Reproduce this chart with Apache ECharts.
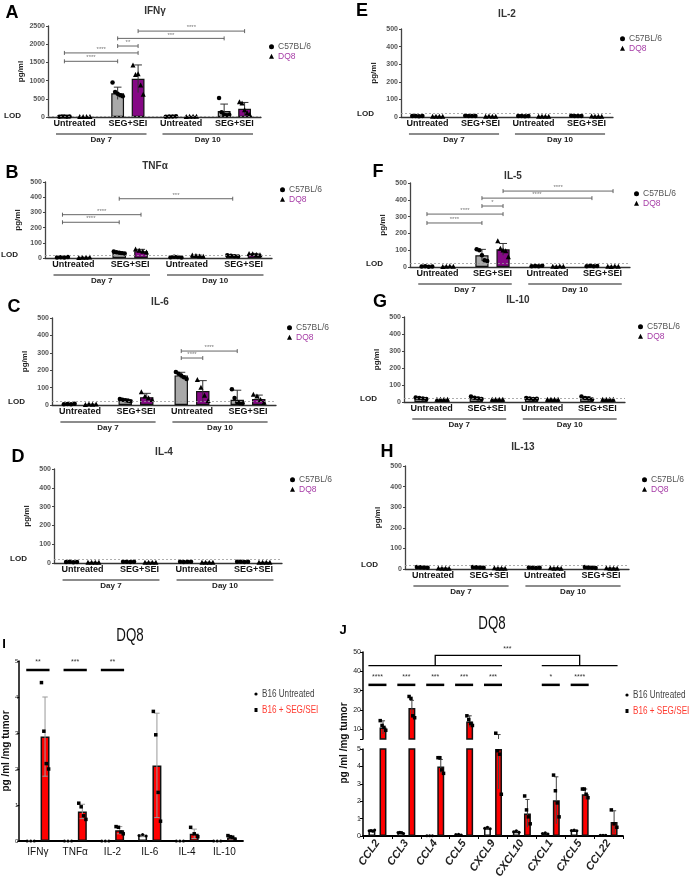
<!DOCTYPE html>
<html>
<head>
<meta charset="utf-8">
<script src="https://cdn.jsdelivr.net/npm/echarts@6/dist/echarts.min.js"></script>
<style>
html,body{margin:0;padding:0;background:#fff}
#main{width:689px;height:889px}
</style>
</head>
<body>
<div id="main"></div>
<script>
// ---------- data ----------
const groups = ['Untreated', 'SEG+SEI', 'Untreated', 'SEG+SEI'];
const dayLabels = [[0, 1, 'Day 7'], [2, 3, 'Day 10']];

// A  IFNγ
const ifngC57 = [12, 650, 14, 165];
const ifngC57Sd = [4, 170, 5, 190];
const ifngDQ8 = [8, 1050, 12, 225];
const ifngDQ8Sd = [4, 380, 6, 175];
const ifngC57Pts = [[8, 12, 15, 10, 14], [950, 690, 640, 600, 570], [10, 16, 12, 18], [520, 130, 60, 50, 60]];
const ifngDQ8Pts = [[5, 8, 10, 9], [1420, 1160, 1180, 870, 620], [8, 14, 12, 15], [410, 380, 190, 110, 60]];
const ifngSig = [[0, 0, 1, 0, 1530, '****'], [0, 0, 1, 1, 1760, '****'], [1, 0, 1, 1, 1950, '**'], [1, 0, 3, 0, 2160, '***'], [1, 1, 3, 1, 2360, '****']];

// B  TNFα
const tnfC57 = [4, 35, 6, 14];
const tnfC57Sd = [2, 6, 3, 5];
const tnfDQ8 = [3, 45, 14, 24];
const tnfDQ8Sd = [2, 12, 5, 6];
const tnfC57Pts = [[3, 5, 4, 6], [42, 38, 35, 32, 30], [5, 8, 6, 4], [18, 15, 12, 10]];
const tnfDQ8Pts = [[2, 4, 3, 5], [58, 50, 42, 38], [18, 15, 12, 10], [28, 26, 22, 20]];
const tnfSig = [[0, 0, 1, 0, 235, '****'], [0, 0, 1, 1, 285, '****'], [1, 0, 3, 0, 390, '***']];

// C  IL-6
const il6C57 = [5, 28, 170, 30];
const il6C57Sd = [2, 6, 18, 55];
const il6DQ8 = [3, 45, 80, 35];
const il6DQ8Sd = [2, 22, 60, 22];
const il6C57Pts = [[4, 6, 5, 7], [35, 30, 28, 25, 22], [190, 180, 170, 160, 150], [90, 40, 15, 10, 8]];
const il6DQ8Pts = [[2, 4, 3, 5], [75, 50, 40, 30], [145, 100, 55, 25], [60, 50, 30, 15]];
const il6Sig = [[2, 0, 2, 1, 270, '****'], [2, 0, 3, 0, 310, '****']];

// D  IL-4
const il4C57 = [5, 6, 6, 6];
const il4C57Sd = [1, 1, 1, 1];
const il4DQ8 = [3, 3, 3, 3];
const il4DQ8Sd = [1, 1, 1, 1];
const il4C57Pts = [[5, 6, 4, 5], [6, 7, 5, 6], [6, 5, 7, 6], [6, 7, 5, 6]];
const il4DQ8Pts = [[3, 3, 3, 3], [3, 3, 3, 3], [3, 3, 3, 3], [3, 3, 3, 3]];

// E  IL-2
const il2C57 = [5, 6, 5, 6];
const il2C57Sd = [1, 1, 1, 2];
const il2DQ8 = [3, 3, 3, 3];
const il2DQ8Sd = [1, 1, 1, 1];
const il2C57Pts = [[5, 6, 4, 5], [7, 6, 5, 6], [6, 5, 4, 6], [7, 6, 5, 6]];
const il2DQ8Pts = [[3, 3, 3, 3], [3, 4, 3, 3], [3, 3, 3, 3], [4, 3, 3, 3]];

// F  IL-5
const il5C57 = [3, 70, 5, 5];
const il5C57Sd = [1, 35, 2, 2];
const il5DQ8 = [3, 105, 3, 3];
const il5DQ8Sd = [1, 35, 1, 1];
const il5C57Pts = [[3, 4, 2, 3], [105, 100, 70, 40, 35], [5, 6, 4, 7], [5, 8, 4, 6]];
const il5DQ8Pts = [[2, 3, 4, 3], [155, 110, 100, 95, 60], [3, 2, 4, 3], [3, 2, 4, 3]];
const il5Sig = [[0, 0, 1, 0, 262, '****'], [0, 0, 1, 1, 315, '****'], [1, 0, 1, 1, 363, '*'], [1, 0, 3, 0, 410, '****'], [1, 1, 3, 1, 452, '****']];

// G  IL-10
const il10C57 = [22, 22, 20, 22];
const il10C57Sd = [4, 6, 3, 8];
const il10DQ8 = [15, 15, 15, 15];
const il10DQ8Sd = [1, 1, 1, 1];
const il10C57Pts = [[27, 24, 20, 18], [32, 25, 20, 17], [24, 21, 18, 19], [33, 24, 20, 14]];
const il10DQ8Pts = [[15, 15, 15, 15], [15, 15, 15, 15], [15, 15, 15, 15], [15, 15, 15, 15]];

// H  IL-13
const il13C57 = [8, 8, 6, 7];
const il13C57Sd = [2, 2, 2, 3];
const il13DQ8 = [3, 3, 4, 3];
const il13DQ8Sd = [2, 2, 2, 2];
const il13C57Pts = [[10, 8, 7, 6], [10, 9, 7, 6], [7, 6, 5, 6], [10, 7, 6, 5]];
const il13DQ8Pts = [[4, 2, 3, 2], [5, 3, 2, 3], [5, 3, 4, 3], [5, 2, 3, 2]];

// I  tumour cytokines (DQ8)
const iCats = ['IFNγ', 'TNFα', 'IL-2', 'IL-6', 'IL-4', 'IL-10'];
const iUntr = [0.01, 0.01, 0.01, 0.15, 0.01, 0.01];
const iUntrSd = [0, 0, 0, 0.03, 0, 0];
const iSeg = [2.9, 0.82, 0.3, 2.1, 0.2, 0.1];
const iSegSd = [1.1, 0.2, 0.1, 1.45, 0.13, 0.05];
const iUntrPts = [[0, 0, 0], [0, 0, 0], [0, 0, 0], [0.15, 0.18, 0.14], [0, 0, 0], [0, 0, 0]];
const iSegPts = [[4.4, 3.05, 2.15, 2.0], [1.05, 0.95, 0.7, 0.6], [0.4, 0.38, 0.25, 0.2], [3.6, 2.95, 1.35, 0.55], [0.38, 0.2, 0.12], [0.15, 0.12, 0.1, 0.05]];
const iSig = [[0, 4.75, '**'], [1, 4.75, '***'], [2, 4.75, '**']];

// J  tumour chemokines (DQ8)
const jCats = ['CCL2', 'CCL3', 'CCL4', 'CCL5', 'CXCL9', 'CXCL10', 'CXCL1', 'CXCL5', 'CCL22'];
const jUntr = [0.3, 0.2, 0.02, 0.08, 0.45, 0.25, 0.15, 0.32, 0.05];
const jUntrSd = [0.05, 0.05, 0.01, 0.02, 0.06, 0.05, 0.03, 0.03, 0.01];
const jSeg = [11, 21, 4.0, 14, 5.0, 1.3, 2.05, 2.4, 0.8];
const jSegSd = [3.4, 4, 0.4, 3, 2.3, 0.8, 1.35, 0.3, 0.65];
const jUntrPts = [[0.3, 0.32, 0.28, 0.35], [0.2, 0.22, 0.18, 0.15], [0.02, 0.02, 0.02], [0.08, 0.1, 0.06], [0.45, 0.5, 0.42], [0.25, 0.3, 0.22], [0.15, 0.18, 0.12], [0.32, 0.34, 0.3], [0.05, 0.05, 0.05]];
const jSegPts = [[14.5, 12, 11, 9.5], [27, 26, 17, 16], [4.5, 4.5, 3.8, 3.6], [17, 15, 13, 12], [8, 4.9, 4.7, 2.4], [2.3, 1.5, 1.1, 0.7], [3.5, 2.6, 1.9, 1.1], [2.7, 2.7, 2.4, 2.2], [1.5, 0.7, 0.5]];
const jSig = [[0, 33, '****'], [1, 33, '***'], [2, 33, '***'], [3, 33, '***'], [4, 33, '***'], [6, 33, '*'], [7, 33, '****']];
const jGroupLines = [[0, 4, 43], [6, 8, 43]];
const jConnector = [[2, 7, 43, 48.3, '***']];
const J_BREAK = 5;

// ---------- panels / layout ----------
const topPanels = [
  {letter: 'A', title: 'IFNγ', max: 2500, c57: ifngC57, c57Sd: ifngC57Sd, dq8: ifngDQ8, dq8Sd: ifngDQ8Sd, c57Pts: ifngC57Pts, dq8Pts: ifngDQ8Pts, sig: ifngSig},
  {letter: 'B', title: 'TNFα', max: 500, c57: tnfC57, c57Sd: tnfC57Sd, dq8: tnfDQ8, dq8Sd: tnfDQ8Sd, c57Pts: tnfC57Pts, dq8Pts: tnfDQ8Pts, sig: tnfSig},
  {letter: 'C', title: 'IL-6', max: 500, c57: il6C57, c57Sd: il6C57Sd, dq8: il6DQ8, dq8Sd: il6DQ8Sd, c57Pts: il6C57Pts, dq8Pts: il6DQ8Pts, sig: il6Sig},
  {letter: 'D', title: 'IL-4', max: 500, c57: il4C57, c57Sd: il4C57Sd, dq8: il4DQ8, dq8Sd: il4DQ8Sd, c57Pts: il4C57Pts, dq8Pts: il4DQ8Pts, sig: []},
  {letter: 'E', title: 'IL-2', max: 500, c57: il2C57, c57Sd: il2C57Sd, dq8: il2DQ8, dq8Sd: il2DQ8Sd, c57Pts: il2C57Pts, dq8Pts: il2DQ8Pts, sig: []},
  {letter: 'F', title: 'IL-5', max: 500, c57: il5C57, c57Sd: il5C57Sd, dq8: il5DQ8, dq8Sd: il5DQ8Sd, c57Pts: il5C57Pts, dq8Pts: il5DQ8Pts, sig: il5Sig},
  {letter: 'G', title: 'IL-10', max: 500, c57: il10C57, c57Sd: il10C57Sd, dq8: il10DQ8, dq8Sd: il10DQ8Sd, c57Pts: il10C57Pts, dq8Pts: il10DQ8Pts, sig: []},
  {letter: 'H', title: 'IL-13', max: 500, c57: il13C57, c57Sd: il13C57Sd, dq8: il13DQ8, dq8Sd: il13DQ8Sd, c57Pts: il13C57Pts, dq8Pts: il13DQ8Pts, sig: []}
];
const LOD = 20;

// l/r: x extent, t/b: y of max and of 0, title, letter, legend anchor
const topLayout = [
  {l: 48, r: 261, t: 26, b: 117, tx: 155, ty: 11, lx: 12, ly: 13, gx: 272, gy: 47},
  {l: 45, r: 272, t: 182, b: 258, tx: 155, ty: 166, lx: 12, ly: 173, gx: 283, gy: 190},
  {l: 52, r: 276, t: 318, b: 405, tx: 160, ty: 302, lx: 14, ly: 307, gx: 290, gy: 328},
  {l: 54, r: 282, t: 469, b: 563, tx: 164, ty: 452, lx: 18, ly: 457, gx: 293, gy: 480},
  {l: 401, r: 613, t: 29, b: 117, tx: 507, ty: 14, lx: 362, ly: 11, gx: 623, gy: 39},
  {l: 410, r: 630, t: 183, b: 267, tx: 513, ty: 176, lx: 378, ly: 172, gx: 637, gy: 194},
  {l: 404, r: 625, t: 317, b: 402, tx: 518, ty: 300, lx: 380, ly: 302, gx: 641, gy: 327},
  {l: 405, r: 629, t: 466, b: 569, tx: 523, ty: 447, lx: 387, ly: 452, gx: 645, gy: 480}
];

const FONT = "'Liberation Sans', Arial, sans-serif";
const NARROW_SCALE = 0.74;
const BAR_W = 0.24, BAR_GAP = 0.6;

const grid = [], xAxis = [], yAxis = [], series = [], legend = [], graphic = [];

function offset(cw, s) {
  return (s === 0 ? -1 : 1) * cw * BAR_W * (1 + BAR_GAP) / 2;
}

function marker(kind, x, y, sz) {
  if (kind === 'circle') return {type: 'circle', shape: {cx: x, cy: y, r: sz / 2}, style: {fill: '#000'}};
  if (kind === 'triangle') return {type: 'polygon', shape: {points: [[x, y - sz / 2 - 0.5], [x - sz / 2 - 0.3, y + sz / 2], [x + sz / 2 + 0.3, y + sz / 2]]}, style: {fill: '#000'}};
  return {type: 'rect', shape: {x: x - sz / 2, y: y - sz / 2, width: sz, height: sz}, style: {fill: '#000'}};
}

function barSeries(name, gi, data, color, border, lod) {
  const s = {
    type: 'bar', name, xAxisIndex: gi, yAxisIndex: gi, data, z: 2,
    barWidth: (BAR_W * 100) + '%', barGap: (BAR_GAP * 100) + '%',
    itemStyle: {color, borderColor: '#111', borderWidth: border}
  };
  if (lod != null) {
    s.markLine = {
      silent: true, symbol: 'none', animation: false,
      data: [{yAxis: lod}],
      lineStyle: {type: [2, 2], color: '#999', width: 0.8},
      label: {show: true, position: 'start', formatter: 'LOD', distance: 27, fontSize: 8, fontWeight: 'bold', color: '#222', fontFamily: FONT}
    };
  }
  return s;
}

// keep: optional filter on values (used for the broken J axis)
function dotSeries(gi, pts, s, kind, sz, keep) {
  const data = [];
  pts.forEach((arr, c) => arr.forEach((v, i) => {
    if (!keep || keep(v)) data.push([c, v, i, arr.length]);
  }));
  return {
    type: 'custom', xAxisIndex: gi, yAxisIndex: gi, z: 4, silent: true,
    encode: {x: 0, y: 1}, data,
    renderItem(params, api) {
      const cw = api.size([1, 0])[0];
      const p = api.coord([api.value(0), api.value(1)]);
      const n = api.value(3), i = api.value(2);
      const dx = n > 1 ? (i / (n - 1) - 0.5) * cw * BAR_W * 0.8 : 0;
      return marker(kind, p[0] + offset(cw, s) + dx, p[1], sz);
    }
  };
}

function errSeries(gi, means, sds, s, color, lowCap, clip) {
  return {
    type: 'custom', xAxisIndex: gi, yAxisIndex: gi, z: 3, silent: true, clip: !!clip,
    encode: {x: 0, y: 1}, data: means.map((m, c) => [c, m, sds[c]]),
    renderItem(params, api) {
      const cw = api.size([1, 0])[0];
      const x = api.coord([api.value(0), 0])[0] + offset(cw, s);
      const top = api.coord([0, api.value(1) + api.value(2)])[1];
      const bot = api.coord([0, Math.max(0, api.value(1) - api.value(2))])[1];
      const cap = cw * BAR_W * 0.3;
      const ch = [
        {type: 'line', shape: {x1: x, y1: bot, x2: x, y2: top}, style: {stroke: color, lineWidth: 1}},
        {type: 'line', shape: {x1: x - cap, y1: top, x2: x + cap, y2: top}, style: {stroke: color, lineWidth: 1}}
      ];
      if (lowCap) ch.push({type: 'line', shape: {x1: x - cap, y1: bot, x2: x + cap, y2: bot}, style: {stroke: color, lineWidth: 1}});
      return {type: 'group', children: ch};
    }
  };
}

function bracketSeries(gi, sig) {
  return {
    type: 'custom', xAxisIndex: gi, yAxisIndex: gi, z: 5, silent: true,
    encode: {x: 0, y: 1}, data: sig.map(d => [d[0], d[4]]),
    renderItem(params, api) {
      const d = sig[params.dataIndex];
      const cw = api.size([1, 0])[0];
      const x1 = api.coord([d[0], 0])[0] + offset(cw, d[1]);
      const x2 = api.coord([d[2], 0])[0] + offset(cw, d[3]);
      const y = api.coord([0, d[4]])[1];
      const st = {stroke: '#555', lineWidth: 0.9};
      return {type: 'group', children: [
        {type: 'line', shape: {x1, y1: y, x2, y2: y}, style: st},
        {type: 'line', shape: {x1, y1: y - 2, x2: x1, y2: y + 2}, style: st},
        {type: 'line', shape: {x1: x2, y1: y - 2, x2, y2: y + 2}, style: st},
        {type: 'text', x: (x1 + x2) / 2, y: y - 0.5, style: {text: d[5], fontSize: 6, fill: '#777', align: 'center', verticalAlign: 'bottom', fontFamily: FONT}}
      ]};
    }
  };
}

function daySeries(gi) {
  return {
    type: 'custom', xAxisIndex: gi, yAxisIndex: gi, z: 1, silent: true,
    encode: {x: 0, y: 1}, data: dayLabels.map(d => [d[0], 0]),
    renderItem(params, api) {
      const d = dayLabels[params.dataIndex];
      const cw = api.size([1, 0])[0];
      const a = api.coord([d[0], 0]), b = api.coord([d[1], 0]);
      const x1 = a[0] - cw * 0.35, x2 = b[0] + cw * 0.35, y = a[1] + 17;
      return {type: 'group', children: [
        {type: 'line', shape: {x1, y1: y, x2, y2: y}, style: {stroke: '#666', lineWidth: 1.3}},
        {type: 'text', x: (x1 + x2) / 2, y: y + 1.5, style: {text: d[2], fontSize: 8, fontWeight: 'bold', fill: '#222', align: 'center', verticalAlign: 'top', fontFamily: FONT}}
      ]};
    }
  };
}

function pairSigSeries(gi, sig) {
  return {
    type: 'custom', xAxisIndex: gi, yAxisIndex: gi, z: 5, silent: true,
    encode: {x: 0, y: 1}, data: sig.map(d => [d[0], d[1]]),
    renderItem(params, api) {
      const d = sig[params.dataIndex];
      const cw = api.size([1, 0])[0];
      const c = api.coord([d[0], d[1]]);
      const half = cw * BAR_W * (1 + BAR_GAP) / 2 + cw * BAR_W / 2;
      return {type: 'group', children: [
        {type: 'line', shape: {x1: c[0] - half, y1: c[1], x2: c[0] + half, y2: c[1]}, style: {stroke: '#000', lineWidth: 2.5}},
        {type: 'text', x: c[0], y: c[1] - 4, style: {text: d[2], fontSize: 7, fill: '#333', align: 'center', verticalAlign: 'bottom', fontFamily: FONT}}
      ]};
    }
  };
}

function groupLineSeries(gi, lines, conn) {
  const all = lines.map(l => ({k: 'l', d: l})).concat(conn.map(c => ({k: 'c', d: c})));
  return {
    type: 'custom', xAxisIndex: gi, yAxisIndex: gi, z: 5, silent: true,
    encode: {x: 0, y: 1}, data: all.map(o => [o.d[0], o.d[2]]),
    renderItem(params, api) {
      const o = all[params.dataIndex];
      const cw = api.size([1, 0])[0];
      const st = {stroke: '#000', lineWidth: 1.3};
      if (o.k === 'l') {
        const half = cw * BAR_W * (1 + BAR_GAP) / 2 + cw * BAR_W / 2;
        const x1 = api.coord([o.d[0], 0])[0] - half;
        const x2 = api.coord([o.d[1], 0])[0] + half;
        const y = api.coord([0, o.d[2]])[1];
        return {type: 'line', shape: {x1, y1: y, x2, y2: y}, style: st};
      }
      const x1 = api.coord([o.d[0], 0])[0];
      const x2 = api.coord([o.d[1], 0])[0];
      const y1 = api.coord([0, o.d[2]])[1];
      const y2 = api.coord([0, o.d[3]])[1];
      return {type: 'group', children: [
        {type: 'polyline', shape: {points: [[x1, y1], [x1, y2], [x2, y2], [x2, y1]]}, style: Object.assign({fill: null}, st)},
        {type: 'text', x: (x1 + x2) / 2, y: y2 - 3, style: {text: o.d[4], fontSize: 7, fill: '#333', align: 'center', verticalAlign: 'bottom', fontFamily: FONT}}
      ]};
    }
  };
}

// ---------- top panels A-H ----------
topPanels.forEach((p, gi) => {
  const L = topLayout[gi];
  grid.push({left: L.l, top: L.t, width: L.r - L.l, height: L.b - L.t});
  xAxis.push({
    type: 'category', gridIndex: gi, data: groups,
    axisTick: {show: false},
    axisLine: {lineStyle: {color: '#333', width: 1.3}},
    axisLabel: {interval: 0, fontSize: 9, fontWeight: 'bold', color: '#111', margin: 2, fontFamily: FONT}
  });
  yAxis.push({
    type: 'value', gridIndex: gi, min: 0, max: p.max, interval: p.max / 5,
    name: 'pg/ml', nameLocation: 'middle', nameGap: 23,
    nameTextStyle: {fontSize: 8, fontWeight: 'bold', color: '#222', fontFamily: FONT},
    axisLine: {show: true, lineStyle: {color: '#444', width: 1.3}},
    axisTick: {show: true, length: 2, lineStyle: {color: '#444'}},
    axisLabel: {fontSize: 7, fontWeight: 'bold', color: '#555', margin: 3, fontFamily: FONT, formatter: v => String(v)},
    splitLine: {show: false}
  });
  series.push(barSeries('C57BL/6', gi, p.c57, '#a9a9a9', 1.2, LOD));
  series.push(barSeries('DQ8', gi, p.dq8, '#850885', 1.2));
  series.push(errSeries(gi, p.c57, p.c57Sd, 0, '#333'));
  series.push(errSeries(gi, p.dq8, p.dq8Sd, 1, '#333'));
  series.push(dotSeries(gi, p.c57Pts, 0, 'circle', 4.5));
  series.push(dotSeries(gi, p.dq8Pts, 1, 'triangle', 4.5));
  if (p.sig.length) series.push(bracketSeries(gi, p.sig));
  series.push(daySeries(gi));
  legend.push({
    left: L.gx - 3, top: L.gy - 5, orient: 'vertical', padding: 0, itemGap: 0,
    itemWidth: 5, itemHeight: 5, selectedMode: false,
    textStyle: {fontSize: 8.5, lineHeight: 9.5, fontFamily: FONT, padding: [0, 0, 0, -1]},
    data: [
      {name: 'C57BL/6', icon: 'circle', itemStyle: {color: '#000', borderWidth: 0}, textStyle: {color: '#555'}},
      {name: 'DQ8', icon: 'triangle', itemStyle: {color: '#000', borderWidth: 0}, textStyle: {color: '#a63ca6'}}
    ]
  });
  graphic.push({type: 'text', x: L.tx, y: L.ty, style: {text: p.title, fontSize: 10, fontWeight: 'bold', fill: '#333', align: 'center', verticalAlign: 'middle', fontFamily: FONT}});
  graphic.push({type: 'text', x: L.lx, y: L.ly, style: {text: p.letter, fontSize: 18, fontWeight: 'bold', fill: '#000', align: 'center', verticalAlign: 'middle', fontFamily: FONT}});
});

// ---------- I ----------
const gI = 8;
grid.push({left: 15, top: 661, width: 228, height: 180});
xAxis.push({
  type: 'category', gridIndex: gI, data: iCats, axisTick: {show: false},
  axisLine: {lineStyle: {color: '#000', width: 1.8}},
  axisLabel: {interval: 0, fontSize: 10, color: '#111', margin: 6, fontFamily: FONT}
});
yAxis.push({
  type: 'value', gridIndex: gI, min: 0, max: 5, interval: 1,
  name: 'pg /ml /mg tumor', nameLocation: 'middle', nameGap: 4,
  nameTextStyle: {fontSize: 10, fontWeight: 'bold', color: '#111', fontFamily: FONT},
  axisLine: {show: true, lineStyle: {color: '#000', width: 1.5}},
  axisTick: {show: true, length: 2, lineStyle: {color: '#000'}},
  axisLabel: {fontSize: 6, color: '#222', margin: 1, fontFamily: FONT},
  splitLine: {show: false}
});
series.push(barSeries('B16 Untreated', gI, iUntr, '#fff', 1.5));
series.push(barSeries('B16 + SEG/SEI', gI, iSeg, '#ff0000', 1.5));
series.push(errSeries(gI, iUntr, iUntrSd, 0, '#999', true));
series.push(errSeries(gI, iSeg, iSegSd, 1, '#999', true));
series.push(dotSeries(gI, iUntrPts, 0, 'circle', 3));
series.push(dotSeries(gI, iSegPts, 1, 'rect', 3.5));
series.push(pairSigSeries(gI, iSig));

// ---------- J (broken axis: lower 0-5, upper 5-50) ----------
const gJL = 9, gJU = 10;
grid.push({left: 363, top: 749, width: 260, height: 87});
grid.push({left: 363, top: 652, width: 260, height: 87});
xAxis.push({
  type: 'category', gridIndex: gJL, data: jCats, axisTick: {show: true, length: 3, lineStyle: {color: '#000'}},
  axisLine: {lineStyle: {color: '#000', width: 1.8}},
  axisLabel: {interval: 0, rotate: 55, fontSize: 11, fontWeight: 'bold', fontStyle: 'italic', color: '#222', margin: 5, fontFamily: FONT}
});
xAxis.push({type: 'category', gridIndex: gJU, data: jCats, show: false});
yAxis.push({
  type: 'value', gridIndex: gJL, min: 0, max: J_BREAK, interval: 1,
  axisLine: {show: true, lineStyle: {color: '#000', width: 1.5}},
  axisTick: {show: true, length: 3, lineStyle: {color: '#000'}},
  axisLabel: {fontSize: 7, color: '#222', margin: 2, fontFamily: FONT},
  splitLine: {show: false}
});
yAxis.push({
  type: 'value', gridIndex: gJU, min: J_BREAK, max: 50, splitNumber: 5,
  axisLine: {show: true, lineStyle: {color: '#000', width: 1.5}},
  axisTick: {show: true, length: 3, lineStyle: {color: '#000'}},
  axisLabel: {fontSize: 7, color: '#222', margin: 2, fontFamily: FONT, formatter: v => (v === J_BREAK ? '' : v)},
  splitLine: {show: false}
});
[gJL, gJU].forEach(g => {
  const upper = g === gJU;
  const keep = upper ? (v => v > J_BREAK) : (v => v <= J_BREAK);
  const barVal = v => (upper && v <= J_BREAK ? '-' : v);
  series.push(barSeries('B16 Untreated', g, jUntr.map(barVal), '#fff', 1.5));
  series.push(barSeries('B16 + SEG/SEI', g, jSeg.map(barVal), '#ff0000', 1.5));
  series.push(errSeries(g, jUntr, jUntrSd, 0, '#444', false, true));
  series.push(errSeries(g, jSeg, jSegSd, 1, '#444', false, true));
  series.push(dotSeries(g, jUntrPts, 0, 'circle', 3, keep));
  series.push(dotSeries(g, jSegPts, 1, 'rect', 3.5, keep));
});
series.push(pairSigSeries(gJU, jSig));
series.push(groupLineSeries(gJU, jGroupLines, jConnector));

// legends (drawn as narrow text) and titles for I and J
[[256, 694], [627, 695]].forEach(pos => {
  graphic.push({type: 'circle', shape: {cx: pos[0], cy: pos[1], r: 1.6}, style: {fill: '#000'}});
  graphic.push({type: 'text', x: pos[0] + 6, y: pos[1], scaleX: NARROW_SCALE, style: {text: 'B16 Untreated', fontSize: 11, fill: '#444', align: 'left', verticalAlign: 'middle', fontFamily: FONT}});
  graphic.push({type: 'rect', shape: {x: pos[0] - 1.5, y: pos[1] + 14, width: 3, height: 4}, style: {fill: '#000'}});
  graphic.push({type: 'text', x: pos[0] + 6, y: pos[1] + 16, scaleX: NARROW_SCALE, style: {text: 'B16 + SEG/SEI', fontSize: 11, fill: '#ff3b30', align: 'left', verticalAlign: 'middle', fontFamily: FONT}});
});
graphic.push({type: 'text', x: 130, y: 636, scaleX: NARROW_SCALE, style: {text: 'DQ8', fontSize: 18, fill: '#111', align: 'center', verticalAlign: 'middle', fontFamily: FONT}});
graphic.push({type: 'text', x: 492, y: 624, scaleX: NARROW_SCALE, style: {text: 'DQ8', fontSize: 18, fill: '#111', align: 'center', verticalAlign: 'middle', fontFamily: FONT}});
graphic.push({type: 'text', x: 4, y: 644, style: {text: 'I', fontSize: 13, fontWeight: 'bold', fill: '#000', align: 'center', verticalAlign: 'middle', fontFamily: FONT}});
graphic.push({type: 'text', x: 343, y: 630, style: {text: 'J', fontSize: 13, fontWeight: 'bold', fill: '#000', align: 'center', verticalAlign: 'middle', fontFamily: FONT}});
graphic.push({type: 'text', x: 344, y: 743, rotation: Math.PI / 2, style: {text: 'pg /ml /mg tumor', fontSize: 10, fontWeight: 'bold', fill: '#111', align: 'center', verticalAlign: 'middle', fontFamily: FONT}});

const chart = echarts.init(document.getElementById('main'));
chart.setOption({animation: false, backgroundColor: '#fff', grid, xAxis, yAxis, series, legend, graphic});
</script>
</body>
</html>
